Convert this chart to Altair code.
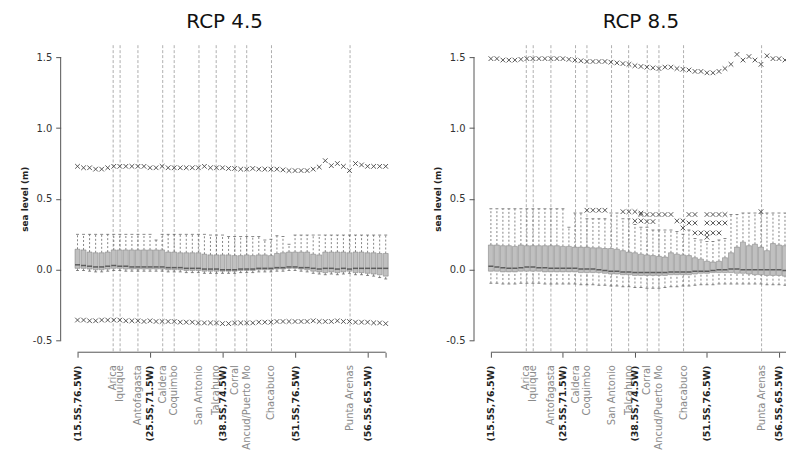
import altair as alt
import pandas as pd

# ---------------- data ----------------
N = 52
positions = list(range(N))
tick_pos = [0, 12, 24, 36, 48, 51]
tick_text = ["(15.5S,76.5W)", "(25.5S,71.5W)", "(38.5S,74.5W)", "(51.5S,76.5W)", "(56.5S,65.5W)", ""]
place_names = ["Arica", "Iquique", "Antofagasta", "Caldera", "Coquimbo", "San Antonio",
               "Talcahuno", "Corral", "Ancud/Puerto Montt", "Chacabuco", "Punta Arenas"]
place_pos = [5.9, 7.05, 10.0, 14.1, 16.0, 20.1, 22.95, 26.05, 28.0, 32.1, 45.1]
y_ticks = [-0.5, 0.0, 0.5, 1.0, 1.5]

# RCP 4.5
l_top = [0.73, 0.72, 0.72, 0.71, 0.71, 0.72, 0.73, 0.73, 0.73, 0.73, 0.73, 0.73, 0.72, 0.72, 0.73,
         0.72, 0.72, 0.72, 0.72, 0.72, 0.72, 0.73, 0.72, 0.72,
         0.72, 0.715, 0.715, 0.71, 0.71, 0.715, 0.71, 0.71, 0.71, 0.71, 0.705, 0.70, 0.70, 0.70, 0.70,
         0.71, 0.725, 0.77, 0.735, 0.75, 0.73, 0.70, 0.75, 0.74, 0.73, 0.73, 0.73, 0.73]
l_bot = [-0.355, -0.355, -0.36, -0.36, -0.355, -0.355, -0.355, -0.355, -0.36, -0.36,
         -0.36, -0.365, -0.36, -0.365, -0.365, -0.365, -0.365, -0.37, -0.37, -0.37,
         -0.375, -0.375, -0.375, -0.375, -0.38, -0.38, -0.375, -0.375, -0.375, -0.375,
         -0.37, -0.37, -0.37, -0.365, -0.365, -0.365, -0.365, -0.365, -0.365, -0.36,
         -0.365, -0.365, -0.365, -0.36, -0.365, -0.365, -0.37, -0.37, -0.37, -0.375,
         -0.375, -0.38]
l_q3 = [0.145, 0.14, 0.125, 0.12, 0.12, 0.125, 0.14, 0.14, 0.14, 0.14,
        0.14, 0.14, 0.14, 0.14, 0.14, 0.125, 0.125, 0.12, 0.12, 0.12,
        0.12, 0.11, 0.105, 0.105, 0.105, 0.105, 0.10, 0.10, 0.105, 0.10,
        0.105, 0.105, 0.10, 0.115, 0.12, 0.125, 0.125, 0.125, 0.125, 0.11,
        0.105, 0.125, 0.125, 0.125, 0.125, 0.12, 0.125, 0.125, 0.12, 0.12,
        0.115, 0.115]
l_med = [0.035, 0.03, 0.025, 0.02, 0.02, 0.025, 0.03, 0.025, 0.025, 0.02,
         0.02, 0.02, 0.02, 0.02, 0.02, 0.015, 0.015, 0.015, 0.01, 0.01,
         0.01, 0.005, 0.005, 0.005, 0.0, 0.0, 0.0, 0.005, 0.005, 0.005,
         0.01, 0.01, 0.01, 0.015, 0.015, 0.02, 0.02, 0.015, 0.015, 0.01,
         0.005, 0.01, 0.01, 0.005, 0.01, 0.005, 0.01, 0.01, 0.01, 0.01,
         0.01, 0.01]
l_q1 = [0.01, 0.01, 0.005, 0.0, 0.0, 0.005, 0.01, 0.01, 0.005, 0.005,
        0.005, 0.005, 0.005, 0.005, 0.005, 0.0, 0.0, 0.0, -0.005, -0.005,
        -0.005, -0.01, -0.01, -0.01, -0.01, -0.01, -0.01, -0.005, -0.005, -0.005,
        0.0, 0.0, 0.0, 0.005, 0.005, 0.01, 0.01, 0.005, 0.0, -0.01,
        -0.015, -0.02, -0.015, -0.02, -0.015, -0.01, -0.02, -0.02, -0.025, -0.03,
        -0.035, -0.045]
l_wlo = [-0.005, -0.005, -0.01, -0.015, -0.015, -0.01, -0.005, -0.005, -0.01, -0.01,
         -0.01, -0.01, -0.01, -0.01, -0.01, -0.015, -0.015, -0.015, -0.02, -0.02,
         -0.02, -0.025, -0.025, -0.025, -0.025, -0.025, -0.025, -0.02, -0.02, -0.02,
         -0.015, -0.015, -0.015, -0.01, -0.01, -0.005, -0.005, -0.01, -0.015, -0.025,
         -0.03, -0.035, -0.03, -0.035, -0.03, -0.025, -0.035, -0.035, -0.04, -0.045,
         -0.055, -0.065]
l_whi = [0.25, 0.25, 0.25, 0.25, 0.25, 0.25, 0.25, 0.25, 0.25, 0.25,
         0.25, 0.25, 0.25, 0.21, 0.25, 0.25, 0.25, 0.25, 0.25, 0.25,
         0.25, 0.25, 0.245, 0.245, 0.245, 0.235, 0.235, 0.235, 0.235, 0.235,
         0.235, 0.21, 0.215, 0.24, 0.235, 0.18, 0.245, 0.245, 0.245, 0.245,
         0.245, 0.245, 0.245, 0.245, 0.245, 0.245, 0.245, 0.245, 0.245, 0.245,
         0.245, 0.245]

# RCP 8.5
r_top = [1.49, 1.49, 1.48, 1.48, 1.48, 1.485, 1.49, 1.49, 1.49, 1.49,
         1.49, 1.49, 1.49, 1.485, 1.48, 1.475, 1.47, 1.47, 1.47, 1.47,
         1.465, 1.46, 1.455, 1.45, 1.44, 1.435, 1.43, 1.425, 1.42, 1.43,
         1.43, 1.42, 1.415, 1.41, 1.40, 1.40, 1.39, 1.39, 1.40, 1.42,
         1.45, 1.52, 1.48, 1.505, 1.48, 1.45, 1.51, 1.49, 1.49, 1.48,
         1.48, 1.48]
r_q3 = [0.175, 0.175, 0.17, 0.17, 0.165, 0.175, 0.17, 0.17, 0.17, 0.17,
        0.17, 0.17, 0.165, 0.165, 0.16, 0.16, 0.16, 0.155, 0.155, 0.15,
        0.15, 0.145, 0.135, 0.125, 0.12, 0.11, 0.105, 0.10, 0.095, 0.09,
        0.12, 0.11, 0.105, 0.10, 0.085, 0.075, 0.06, 0.055, 0.06, 0.085,
        0.12, 0.16, 0.195, 0.17, 0.18, 0.16, 0.135, 0.185, 0.175, 0.17,
        0.165, 0.16]
r_med = [0.025, 0.02, 0.015, 0.01, 0.01, 0.015, 0.02, 0.02, 0.015, 0.015,
         0.01, 0.01, 0.01, 0.01, 0.01, 0.005, 0.005, 0.005, 0.0, -0.005,
         -0.01, -0.01, -0.015, -0.015, -0.02, -0.02, -0.02, -0.02, -0.02, -0.02,
         -0.015, -0.015, -0.015, -0.015, -0.01, -0.01, -0.01, -0.005, 0.0, 0.0,
         0.005, 0.005, 0.0, 0.0, 0.0, 0.0, 0.0, 0.0, 0.0, -0.005,
         -0.005, -0.005]
r_q1 = [-0.01, -0.01, -0.015, -0.015, -0.015, -0.01, -0.01, -0.01, -0.01, -0.015,
        -0.015, -0.015, -0.015, -0.015, -0.015, -0.02, -0.02, -0.02, -0.02, -0.025,
        -0.03, -0.03, -0.035, -0.035, -0.04, -0.04, -0.04, -0.04, -0.04, -0.04,
        -0.035, -0.035, -0.035, -0.035, -0.03, -0.025, -0.025, -0.02, -0.02, -0.02,
        -0.02, -0.025, -0.025, -0.03, -0.035, -0.035, -0.04, -0.04, -0.04, -0.045,
        -0.045, -0.05]
r_wlo = [-0.095, -0.095, -0.10, -0.10, -0.10, -0.095, -0.095, -0.095, -0.095, -0.10,
         -0.10, -0.10, -0.10, -0.10, -0.10, -0.105, -0.105, -0.105, -0.11, -0.11,
         -0.115, -0.115, -0.12, -0.12, -0.125, -0.125, -0.13, -0.13, -0.13, -0.125,
         -0.12, -0.12, -0.115, -0.115, -0.11, -0.105, -0.105, -0.105, -0.10, -0.10,
         -0.10, -0.10, -0.10, -0.10, -0.10, -0.10, -0.105, -0.105, -0.105, -0.11,
         -0.11, -0.11]
r_whi = [0.43, 0.43, 0.43, 0.43, 0.43, 0.43, 0.43, 0.43, 0.43, 0.43,
         0.43, 0.43, 0.43, 0.30, 0.40, 0.40, 0.36, 0.36, 0.36, 0.36,
         0.40, 0.40, 0.36, 0.36, 0.32, 0.30, 0.30, 0.28, 0.28, 0.28,
         0.28, 0.27, 0.25, 0.28, 0.22, 0.21, 0.20, 0.20, 0.21, 0.22,
         0.39, 0.39, 0.40, 0.40, 0.40, 0.40, 0.40, 0.40, 0.40, 0.40,
         0.40, 0.40]
r_out_pos = [16, 17, 18, 19, 22, 23, 24, 25, 25, 26, 27, 28, 29, 30, 24, 25, 26, 27,
             31, 32, 33, 34, 33, 34, 36, 37, 38, 39, 36, 37, 38, 39, 32,
             34, 35, 36, 37, 38, 36, 45]
r_out_val = [0.42, 0.42, 0.42, 0.42, 0.41, 0.41, 0.41, 0.40, 0.39, 0.39, 0.39, 0.39, 0.39, 0.39,
             0.345, 0.345, 0.34, 0.34, 0.345, 0.345, 0.39, 0.39, 0.33, 0.33,
             0.39, 0.39, 0.39, 0.39, 0.33, 0.33, 0.33, 0.33, 0.295,
             0.26, 0.26, 0.26, 0.26, 0.26, 0.23, 0.41]

# ---------------- styling ----------------
FONT = "DejaVu Sans"
PLOT_H = 309
Y_DOMAIN = [-0.582, 1.585]
X_SHAPE = "M-1,-1L1,1M-1,1L1,-1"
Y_LABEL_EXPR = ("datum.value < 0 ? '-' + format(-datum.value, '.1f') "
                ": format(datum.value, '.1f')")


def label_expr(pos, text):
    expr = "''"
    for p, t in reversed(list(zip(pos, text))):
        expr = f"datum.value == {p} ? '{t}' : ({expr})"
    return expr


def panel(title, title_dx, q1, med, q3, wlo, whi, rows, out_pos, out_val,
          x_domain, width, ticks, clip):
    xs = alt.Scale(domain=x_domain, nice=False, zero=False, padding=0)
    ys = alt.Scale(domain=Y_DOMAIN, nice=False, zero=False, padding=0)
    tick_labels = [tick_text[tick_pos.index(t)] for t in ticks]
    xaxis = alt.Axis(values=ticks, labelExpr=label_expr(ticks, tick_labels), domain=False,
                     grid=False, tickSize=5, tickColor="#555", labelAngle=270,
                     labelAlign="right", labelBaseline="middle", labelFontSize=9.5,
                     labelFontWeight="bold", labelColor="#222", labelPadding=8,
                     labelFont=FONT, labelLimit=120, labelOverlap=False, title=None)
    yaxis = alt.Axis(values=y_ticks, labelExpr=Y_LABEL_EXPR, domain=False, grid=False,
                     offset=6, tickSize=5, tickColor="#555", labelFontSize=10,
                     labelColor="#333", labelPadding=4, labelFont=FONT,
                     title="sea level (m)", titleFontSize=9, titleFontWeight="bold",
                     titleColor="#222", titleFont=FONT, titlePadding=3)
    X = alt.X("pos:Q", scale=xs, axis=xaxis)

    def Y(f):
        return alt.Y(f"{f}:Q", scale=ys, axis=yaxis)

    box = pd.DataFrame({"pos": positions, "q1": q1, "med": med, "q3": q3,
                        "wlo": wlo, "whi": whi})
    places = pd.DataFrame({"pos": place_pos, "name": place_names})
    pts = pd.concat([pd.DataFrame({"pos": positions, "val": r}) for r in rows]
                    + [pd.DataFrame({"pos": out_pos, "val": out_val})], ignore_index=True)
    xline = pd.DataFrame({"pos": [positions[0]], "pos2": [min(positions[-1], x_domain[1])]})
    yline = pd.DataFrame({"lo": [y_ticks[0]], "hi": [y_ticks[-1]]})

    guides = alt.Chart(places).mark_rule(strokeDash=[3, 2], color="#9a9a9a",
                                         strokeWidth=0.8).encode(x=X)
    wh_up = alt.Chart(box).mark_rule(strokeDash=[2, 2], color="#666", strokeWidth=0.8,
                                     clip=clip).encode(x=X, y=Y("q3"), y2="whi")
    wh_lo = alt.Chart(box).mark_rule(strokeDash=[2, 2], color="#666", strokeWidth=0.8,
                                     clip=clip).encode(x=X, y=Y("wlo"), y2="q1")
    cap_up = alt.Chart(box).mark_tick(orient="horizontal", size=3, thickness=1,
                                      color="#555", clip=clip).encode(x=X, y=Y("whi"))
    cap_lo = alt.Chart(box).mark_tick(orient="horizontal", size=3, thickness=1,
                                      color="#555", clip=clip).encode(x=X, y=Y("wlo"))
    boxes = alt.Chart(box).mark_bar(size=5, fill="#c0c0c0", stroke="#777",
                                    strokeWidth=0.5, clip=clip).encode(x=X, y=Y("q1"), y2="q3")
    medians = alt.Chart(box).mark_tick(orient="horizontal", size=5, thickness=1.5,
                                       color="#333", clip=clip).encode(x=X, y=Y("med"))
    crosses = alt.Chart(pts).mark_point(shape=X_SHAPE, filled=False, size=22,
                                        strokeWidth=0.9, color="#444",
                                        opacity=1, clip=clip).encode(x=X, y=Y("val"))
    x_rule = alt.Chart(xline).mark_rule(color="#555", strokeWidth=1).encode(
        x=X, x2="pos2", y=alt.value(PLOT_H))
    y_rule = alt.Chart(yline).mark_rule(color="#555", strokeWidth=1).encode(
        x=alt.value(-6), y=Y("lo"), y2="hi")
    names = alt.Chart(places).mark_text(angle=270, align="right", baseline="middle",
                                        fontSize=10, color="#8a8a8a", font=FONT,
                                        limit=90, ellipsis=" ").encode(
        x=X, y=alt.value(PLOT_H + 13), text="name:N")

    return alt.layer(guides, wh_up, wh_lo, cap_up, cap_lo, boxes, medians, crosses,
                     x_rule, y_rule, names).properties(
        width=width, height=PLOT_H,
        title=alt.TitleParams(text=title, fontSize=20, fontWeight="normal", font=FONT,
                              color="#111", anchor="middle", offset=-3,
                              baseline="alphabetic", dx=title_dx))


left = panel("RCP 4.5", -4, l_q1, l_med, l_q3, l_wlo, l_whi, [l_top, l_bot], [], [],
             [-1.8, 51.8], 326, tick_pos, False)
right = panel("RCP 8.5", 8, r_q1, r_med, r_q3, r_wlo, r_whi, [r_top], r_out_pos, r_out_val,
              [-1.82, 49.17], 308, tick_pos[:5], True)

chart = alt.hconcat(left, right, spacing=43).properties(
    padding={"left": 12, "top": 2, "right": 0, "bottom": 0}, background="white"
).configure_view(strokeWidth=0)

chart.save("out.html", embed_options={"renderer": "svg", "actions": False})
